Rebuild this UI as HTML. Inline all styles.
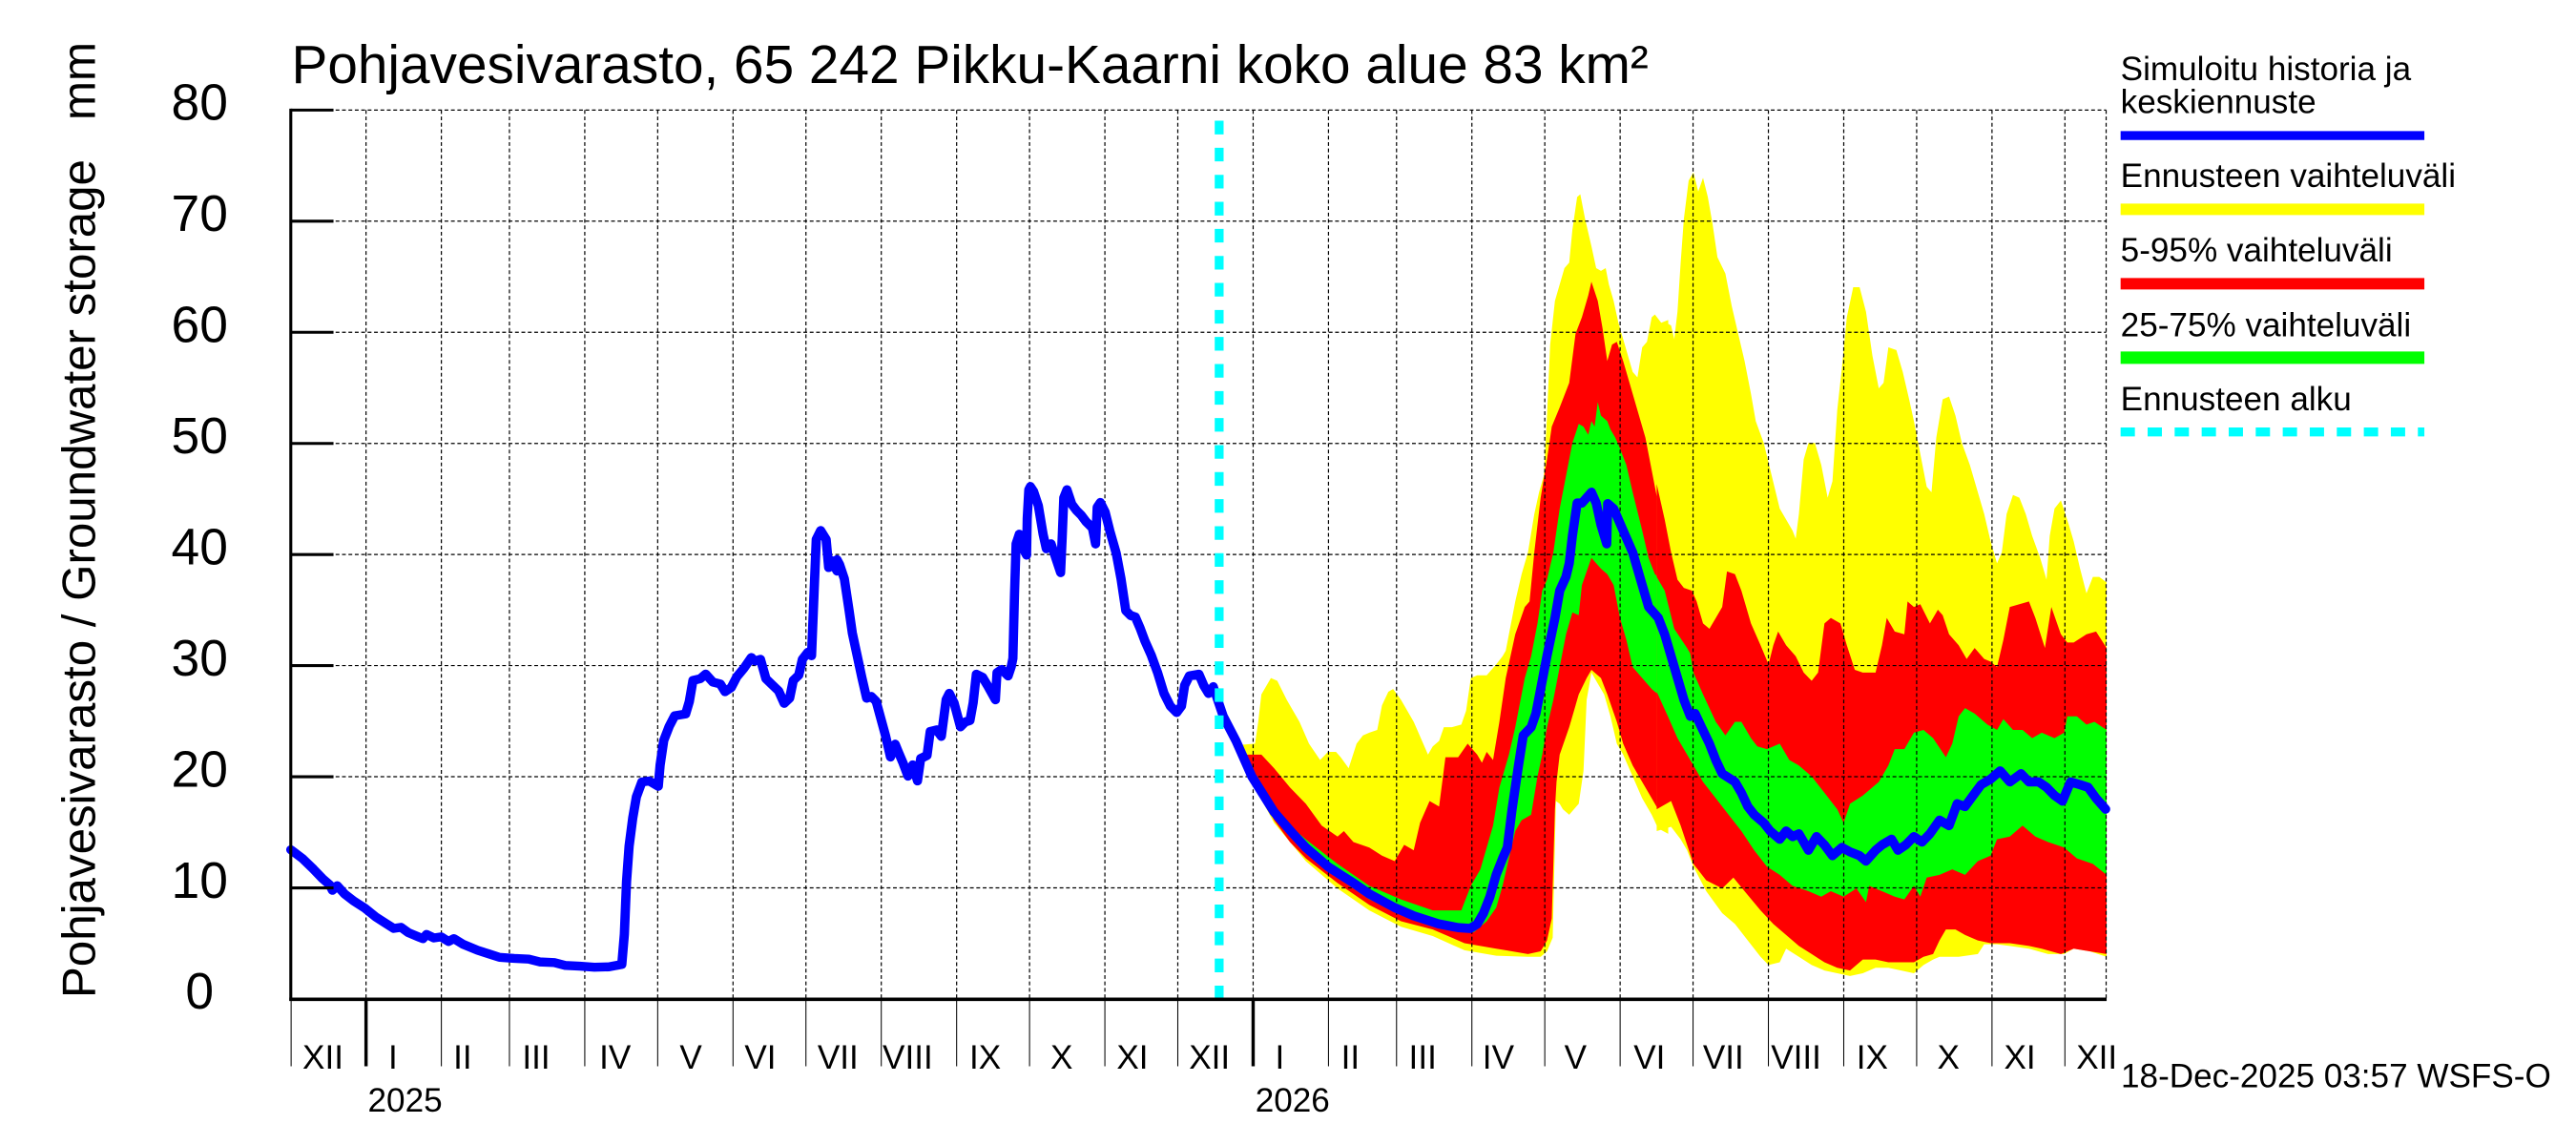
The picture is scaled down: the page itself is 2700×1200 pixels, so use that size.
<!DOCTYPE html>
<html><head><meta charset="utf-8">
<style>html,body{margin:0;padding:0;background:#fff;overflow:hidden}svg{display:block}</style>
</head>
<body>
<svg xmlns="http://www.w3.org/2000/svg" width="2700" height="1200" viewBox="0 0 1568 696.9" preserveAspectRatio="none" font-family="'Liberation Sans', Arial, Helvetica, sans-serif">
<rect x="0" y="0" width="1568" height="697" fill="#fff"/>

<!-- forecast bands part 1 -->
<g transform="matrix(0.19316 0 0 0.3327 736.9 93.3)">
<polygon fill="#ffff00" points="26,1005 60,1040 100,1082 140,1080 150,1040 160,990 190,960 210,965 240,1000 280,1040 310,1080 345,1110 370,1095 395,1095 410,1105 435,1125 460,1080 480,1065 500,1060 525,1055 540,1010 560,985 575,980 600,1000 640,1040 685,1100 700,1085 720,1075 735,1050 760,1050 790,1045 805,1020 820,960 840,955 870,955 900,935 920,920 930,910 940,880 960,820 980,770 1000,730 1020,660 1035,620 1050,590 1060,480 1070,350 1085,270 1100,240 1115,210 1130,200 1140,140 1155,80 1165,75 1180,120 1200,170 1215,210 1230,215 1245,210 1255,240 1270,270 1285,310 1300,340 1330,400 1345,410 1360,355 1375,345 1390,300 1400,295 1420,310 1442,305 1442,1245 1410,1235 1390,1210 1360,1180 1330,1140 1300,1100 1280,1080 1260,1030 1240,990 1220,970 1200,950 1185,1000 1175,1130 1160,1190 1130,1210 1110,1200 1100,1190 1088,1185 1078,1435 1060,1460 1040,1470 1000,1470 900,1468 800,1458 700,1432 600,1415 500,1385 400,1345 300,1295 200,1225 130,1150 60,1045 26,1012"/>
<polygon fill="#ff0000" points="26,1008 60,1055 100,1100 130,1100 160,1100 200,1125 250,1160 300,1190 350,1230 400,1250 420,1240 450,1260 500,1270 540,1285 580,1295 610,1265 640,1275 660,1225 690,1185 720,1195 740,1105 780,1105 810,1080 840,1100 855,1115 870,1095 890,1110 910,1040 930,960 960,880 990,830 1005,820 1020,730 1040,630 1060,560 1075,500 1100,465 1130,420 1150,330 1170,300 1190,260 1200,235 1220,270 1235,320 1250,380 1265,350 1280,345 1300,380 1320,420 1350,480 1370,520 1390,580 1420,670 1442,690 1442,1180 1410,1200 1390,1180 1360,1150 1330,1120 1300,1080 1280,1040 1250,990 1230,960 1200,945 1185,960 1160,990 1130,1050 1100,1100 1090,1150 1085,1200 1080,1300 1075,1400 1060,1440 1040,1460 1000,1465 930,1458 900,1455 850,1450 800,1445 700,1420 600,1405 500,1375 400,1335 300,1290 250,1260 200,1220 130,1145 60,1045 26,1012"/>
<polygon fill="#00ff00" points="26,1010 130,1138 240,1225 300,1255 400,1300 500,1340 600,1365 700,1385 790,1385 800,1370 820,1340 850,1310 870,1270 890,1230 910,1160 940,1100 960,1050 990,960 1010,920 1030,860 1045,800 1060,780 1080,730 1100,650 1120,590 1140,530 1160,495 1175,500 1190,515 1200,490 1210,500 1220,455 1230,480 1250,490 1260,505 1275,520 1290,540 1310,570 1330,620 1360,690 1380,740 1400,770 1420,780 1442,790 1442,1030 1410,990 1390,980 1360,960 1330,940 1310,890 1290,850 1270,790 1250,770 1230,760 1200,740 1170,790 1160,845 1140,840 1120,880 1100,940 1080,1000 1060,1050 1045,1100 1030,1140 1010,1210 980,1220 960,1240 940,1290 920,1340 900,1380 870,1405 830,1425 800,1425 700,1415 600,1390 500,1365 400,1325 300,1280 130,1145 26,1012"/>
</g>

<!-- forecast bands part 2 -->
<g transform="matrix(0.1945 0 0 0.3327 1009.4 93.3)">
<polygon fill="#ffff00" points="-5,310 15,320 25,310 40,315 50,340 60,290 70,200 80,120 95,50 110,35 125,70 140,45 155,80 170,130 185,190 210,220 230,280 250,330 270,380 290,440 305,490 330,530 355,590 380,650 400,670 420,690 430,705 440,660 455,560 470,530 490,530 510,570 530,630 545,600 560,470 575,390 590,300 610,245 630,245 650,290 670,370 690,430 705,420 720,355 745,360 765,400 785,450 800,490 820,550 840,610 855,620 870,520 890,450 910,445 930,480 950,530 975,570 1000,620 1020,660 1040,710 1060,750 1075,730 1090,660 1110,625 1130,630 1150,660 1170,700 1195,740 1215,780 1225,700 1240,650 1260,635 1285,680 1300,710 1320,760 1340,805 1360,775 1380,775 1403,785 1403,1470 1350,1460 1300,1455 1270,1465 1220,1465 1160,1455 1100,1450 1060,1447 1020,1447 1000,1465 940,1470 880,1470 860,1475 830,1485 800,1500 760,1495 720,1490 680,1490 640,1500 600,1505 560,1500 520,1495 480,1485 440,1470 400,1455 380,1480 345,1485 320,1470 280,1440 240,1410 200,1390 150,1350 110,1305 90,1275 70,1255 40,1232 -5,1240"/>
<polygon fill="#ff0000" points="-5,605 20,670 40,730 60,780 80,795 105,800 120,820 140,860 160,870 180,850 200,830 215,765 240,770 260,800 290,860 320,900 345,935 360,900 375,875 400,900 430,920 455,950 480,965 500,950 520,860 540,850 570,860 590,900 615,945 640,950 680,950 700,900 715,850 740,875 770,880 780,820 800,830 820,825 850,860 875,835 890,845 910,880 940,900 965,925 990,905 1020,925 1040,930 1060,940 1080,890 1100,830 1130,825 1160,820 1180,850 1210,905 1230,830 1260,880 1280,895 1300,895 1340,880 1370,875 1403,905 1403,1465 1350,1460 1300,1455 1260,1465 1200,1455 1160,1450 1100,1445 1040,1445 1000,1440 960,1430 930,1420 900,1420 880,1440 860,1465 830,1470 800,1480 720,1480 680,1475 640,1475 620,1485 600,1495 560,1490 520,1480 480,1465 440,1450 400,1430 360,1410 320,1385 270,1350 235,1325 200,1345 150,1330 110,1300 70,1230 40,1185 -5,1200"/>
<polygon fill="#00ff00" points="-5,775 20,800 50,870 90,905 100,915 110,950 140,990 180,1040 210,1065 240,1040 260,1040 290,1070 310,1085 340,1090 380,1080 410,1110 440,1120 480,1140 520,1170 560,1200 580,1225 600,1190 640,1175 690,1150 720,1120 740,1090 770,1090 800,1060 830,1055 860,1070 900,1105 920,1080 940,1030 960,1015 990,1025 1030,1045 1060,1055 1080,1035 1110,1055 1140,1055 1170,1070 1200,1060 1240,1070 1270,1060 1280,1030 1310,1030 1340,1045 1365,1040 1403,1055 1403,1320 1360,1300 1310,1290 1270,1270 1220,1260 1180,1250 1140,1230 1100,1250 1060,1255 1040,1285 1000,1295 960,1320 920,1310 880,1320 840,1325 820,1360 800,1340 770,1365 740,1360 700,1350 660,1340 650,1370 620,1345 580,1360 540,1350 510,1360 470,1350 420,1340 380,1320 340,1305 300,1275 260,1240 220,1210 180,1180 140,1150 100,1110 60,1070 30,1030 -5,985"/>
</g>

<!-- grid -->
<path fill="none" stroke="#000" stroke-width="0.7" stroke-dasharray="2.3 1.6" d="
M222.8,67V608 M268.66,67V608 M310.09,67V608 M355.95,67V608 M400.33,67V608 M446.19,67V608 M490.57,67V608 M536.43,67V608 M582.3,67V608 M626.68,67V608 M672.54,67V608 M716.92,67V608 M762.78,67V608 M808.64,67V608 M850.07,67V608 M895.93,67V608 M940.31,67V608 M986.17,67V608 M1030.55,67V608 M1076.42,67V608 M1122.28,67V608 M1166.66,67V608 M1212.52,67V608 M1256.9,67V608 M1282,67V608
M177,67H1282 M177,134.6H1282 M177,202.25H1282 M177,269.9H1282 M177,337.5H1282 M177,405.1H1282 M177,472.75H1282 M177,540.4H1282"/>

<!-- blue history line -->
<g transform="matrix(0.2221 0 0 0.21468 168.6 278.9)">
<path fill="none" stroke="#0000ff" stroke-width="25.5" stroke-linejoin="round" stroke-linecap="round" d="M38,1110 L70,1135 L100,1165 L125,1192 L145,1210 L152,1225 L165,1212 L185,1235 L210,1255 L240,1275 L270,1300 L300,1320 L320,1333 L340,1330 L360,1345 L390,1358 L400,1362 L410,1350 L430,1360 L450,1357 L470,1370 L485,1362 L510,1378 L550,1395 L580,1405 L610,1415 L650,1418 L690,1420 L720,1428 L760,1430 L790,1438 L830,1440 L870,1443 L910,1442 L945,1435 L952,1350 L958,1200 L965,1100 L975,1020 L985,960 L1000,918 L1020,915 L1045,930 L1050,870 L1060,800 L1075,760 L1090,730 L1120,725 L1130,690 L1140,630 L1160,625 L1175,612 L1195,635 L1215,640 L1228,662 L1245,650 L1260,620 L1280,595 L1300,565 L1310,575 L1325,570 L1340,625 L1360,645 L1375,660 L1390,695 L1405,680 L1415,630 L1430,615 L1440,570 L1455,550 L1465,560 L1472,380 L1478,230 L1490,205 L1505,230 L1512,310 L1520,290 L1535,320"/>
</g>
<g transform="matrix(0.19358 0 0 0.19358 511.05 267.15)">
<path fill="none" stroke="#0000ff" stroke-width="29" stroke-linejoin="round" stroke-linecap="round" d="M-8,380 L0,395 L15,440 L30,540 L40,610 L55,680 L70,750 L85,815 L100,810 L115,825 L130,880 L145,935 L160,1000 L175,960 L185,985 L200,1020 L215,1060 L230,1025 L245,1075 L255,1005 L275,995 L285,920 L305,915 L320,935 L335,820 L345,800 L360,830 L380,905 L395,890 L410,885 L420,830 L430,740 L450,750 L465,775 L490,820 L495,735 L510,725 L530,745 L540,715 L545,690 L550,490 L555,330 L565,300 L578,345 L588,365 L590,250 L595,160 L600,150 L610,165 L625,210 L640,300 L650,345 L665,330 L680,375 L695,420 L700,310 L705,185 L715,160 L730,205 L745,225 L760,240 L775,260 L795,280 L805,330 L810,215 L820,200 L835,230 L850,290 L870,360 L885,440 L900,540 L915,555 L930,560 L945,595 L960,635 L980,680 L1000,735 L1020,800 L1040,840 L1060,860 L1075,840 L1085,775 L1100,745 L1130,740 L1145,775 L1160,800 L1175,780"/>
</g>
<!-- blue forecast median -->
<path fill="none" stroke="#0000ff" stroke-width="5.6" stroke-linejoin="round" stroke-linecap="round" d="M738.5,418 L744.6,436.0 L752.4,451.0 L762.0,472.6 L775.5,494.2 L787.1,507.5 L794.8,515.8 L808.4,527.5 L816.1,532.5 L823.8,537.4 L833.5,544.1 L848.9,552.4 L860.5,557.4 L876.0,562.4 L887.6,564.6 L894.9,565.1 L899.2,562.4 L903.0,555.8 L906.9,545.8 L910.7,532.5 L914.6,522.5 L917.5,515.8 L920.4,492.5 L924.3,465.9 L927.2,447.6 L932.0,442.6 L934.9,434.3 L937.8,419.3 L941.6,399.4 L946.5,376.1 L949.4,359.5 L953.2,351.1 L955.2,342.8 L957.1,326.2 L960.0,306.2 L962.9,306.2 L968.7,299.6 L971.6,306.2 L974.5,319.5 L978.0,331 L978.6,306.5 L982.2,309.6 L988.0,322.9 L993.8,336.2 L999.6,356.1 L1003.5,369.4 L1009.4,376.1 L1013.3,386.1 L1017.2,399.4 L1021.1,412.7 L1025.0,426.0 L1028.9,436.0 L1031.8,434.3 L1035.7,442.6 L1040.5,452.6 L1044.4,462.6 L1048.3,470.9 L1056.1,475.9 L1060.0,482.6 L1063.9,490.9 L1067.8,495.9 L1073.6,500.9 L1077.5,505.8 L1083.3,510.8 L1087.2,505.8 L1091.1,509.2 L1095.0,507.5 L1100.8,517.5 L1105.7,509.2 L1110.5,514.2 L1115.4,520.8 L1121.2,515.8 L1126.1,518.5 L1131.9,520.8 L1135.8,524.1 L1141.7,517.5 L1145.6,514.2 L1151.4,510.8 L1155.3,517.5 L1160.1,514.2 L1165.0,509.2 L1169.9,512.5 L1174.7,507.5 L1180.6,499.2 L1186.4,502.5 L1191.3,489.2 L1196.1,490.9 L1201.0,484.2 L1205.9,477.6 L1211.7,474.2 L1217.5,469.2 L1223.4,475.9 L1230.2,470.9 L1235.0,475.9 L1240.9,475.9 L1245.7,479.2 L1250.6,484.2 L1255.4,487.6 L1260.3,475.9 L1266.1,477.6 L1271.0,479.2 L1275.9,485.9 L1281.7,492.5"/>

<!-- forecast start line -->
<line x1="742.1" y1="73.5" x2="742.1" y2="608.3" stroke="#00ffff" stroke-width="5.4" stroke-dasharray="8.3 8.15"/>

<!-- axes -->
<line x1="177" y1="66.1" x2="177" y2="609" stroke="#000" stroke-width="1.8"/>
<line x1="176.1" y1="608.2" x2="1282.3" y2="608.2" stroke="#000" stroke-width="2.1"/>
<path stroke="#000" stroke-width="1.8" fill="none" d="M177,67H203 M177,134.6H203 M177,202.25H203 M177,269.9H203 M177,337.5H203 M177,405.1H203 M177,472.75H203 M177,540.4H203"/>
<path stroke="#000" stroke-width="0.6" fill="none" d="M177.2,608V649 M268.66,608V649 M310.09,608V649 M355.95,608V649 M400.33,608V649 M446.19,608V649 M490.57,608V649 M536.43,608V649 M582.3,608V649 M626.68,608V649 M672.54,608V649 M716.92,608V649 M808.64,608V649 M850.07,608V649 M895.93,608V649 M940.31,608V649 M986.17,608V649 M1030.55,608V649 M1076.42,608V649 M1122.28,608V649 M1166.66,608V649 M1212.52,608V649 M1256.9,608V649"/>
<path stroke="#000" stroke-width="2" fill="none" d="M222.8,608V649 M762.78,608V649"/>

<!-- y tick labels -->
<g font-size="31" text-anchor="middle" fill="#000">
<text x="121.5" y="73">80</text>
<text x="121.5" y="140.6">70</text>
<text x="121.5" y="208.3">60</text>
<text x="121.5" y="275.9">50</text>
<text x="121.5" y="343.5">40</text>
<text x="121.5" y="411.1">30</text>
<text x="121.5" y="478.8">20</text>
<text x="121.5" y="546.4">10</text>
<text x="121.5" y="614">0</text>
</g>

<!-- y axis title -->
<text transform="translate(57.7,607.5) rotate(-90)" font-size="28.6" fill="#000" textLength="582" lengthAdjust="spacingAndGlyphs" xml:space="preserve">Pohjavesivarasto / Groundwater storage   mm</text>

<!-- title -->
<text x="177.4" y="50.5" font-size="33" fill="#000" textLength="826" lengthAdjust="spacingAndGlyphs">Pohjavesivarasto, 65 242 Pikku-Kaarni koko alue 83 km²</text>

<!-- month labels -->
<g font-size="20.4" text-anchor="middle" fill="#000">
<text x="196.6" y="650.4">XII</text>
<text x="239.2" y="650.4">I</text>
<text x="281.6" y="650.4">II</text>
<text x="326.4" y="650.4">III</text>
<text x="374.4" y="650.4">IV</text>
<text x="420.5" y="650.4">V</text>
<text x="462.8" y="650.4">VI</text>
<text x="510.1" y="650.4">VII</text>
<text x="552.5" y="650.4">VIII</text>
<text x="599.7" y="650.4">IX</text>
<text x="646.2" y="650.4">X</text>
<text x="689.3" y="650.4">XI</text>
<text x="736.2" y="650.4">XII</text>
<text x="779" y="650.4">I</text>
<text x="822" y="650.4">II</text>
<text x="866" y="650.4">III</text>
<text x="912" y="650.4">IV</text>
<text x="959" y="650.4">V</text>
<text x="1004" y="650.4">VI</text>
<text x="1049" y="650.4">VII</text>
<text x="1093.3" y="650.4">VIII</text>
<text x="1139.6" y="650.4">IX</text>
<text x="1186" y="650.4">X</text>
<text x="1229.5" y="650.4">XI</text>
<text x="1276.3" y="650.4">XII</text>
</g>
<g font-size="20.4" fill="#000">
<text x="223.9" y="676.6">2025</text>
<text x="764.1" y="676.6">2026</text>
</g>

<!-- legend -->
<g font-size="20.4" fill="#000">
<text x="1290.8" y="48.8">Simuloitu historia ja</text>
<text x="1290.8" y="68.7">keskiennuste</text>
<text x="1290.8" y="113.8">Ennusteen vaihteluväli</text>
<text x="1290.8" y="159.1">5-95% vaihteluväli</text>
<text x="1290.8" y="204.6">25-75% vaihteluväli</text>
<text x="1290.8" y="249.7">Ennusteen alku</text>
</g>
<line x1="1290.8" y1="82.5" x2="1475.7" y2="82.5" stroke="#0000ff" stroke-width="5.5"/>
<line x1="1290.8" y1="127.4" x2="1475.7" y2="127.4" stroke="#ffff00" stroke-width="7"/>
<line x1="1290.8" y1="172.7" x2="1475.7" y2="172.7" stroke="#ff0000" stroke-width="7"/>
<line x1="1290.8" y1="217.7" x2="1475.7" y2="217.7" stroke="#00ff00" stroke-width="7.5"/>
<line x1="1290.8" y1="262.9" x2="1475.7" y2="262.9" stroke="#00ffff" stroke-width="5.4" stroke-dasharray="8.7 7.75"/>

<!-- timestamp -->
<text x="1291" y="661.7" font-size="20.4" fill="#000">18-Dec-2025 03:57 WSFS-O</text>
</svg>
</body></html>
